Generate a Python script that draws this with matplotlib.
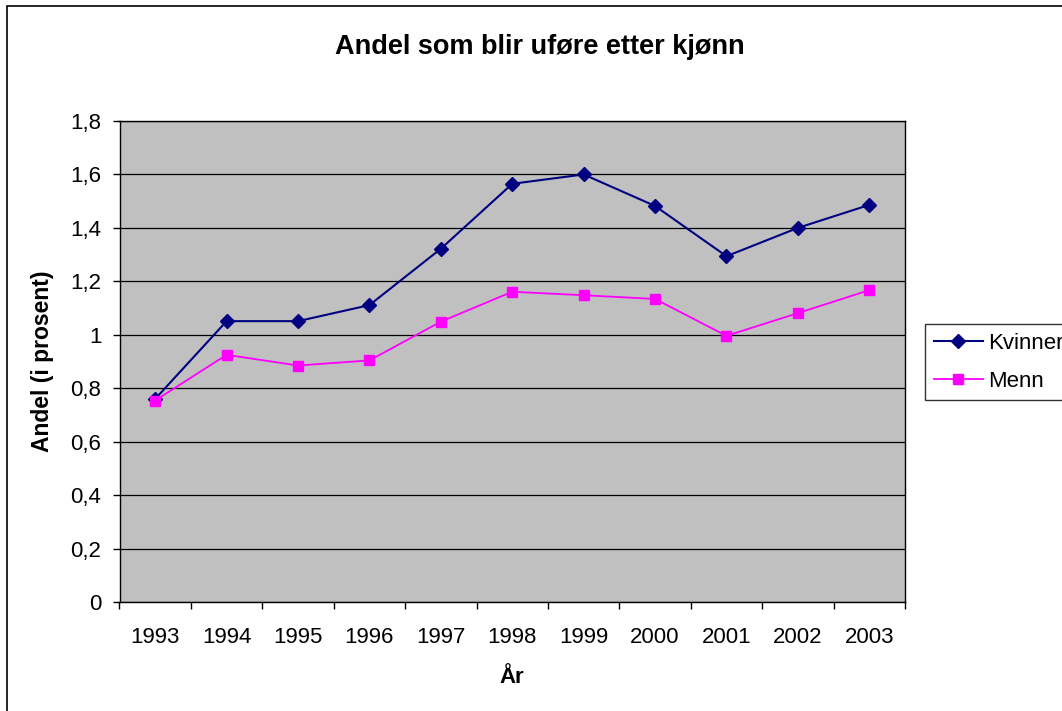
import numpy as np
import matplotlib.pyplot as plt
from matplotlib.patches import Rectangle

plt.rcParams['font.family'] = ['Liberation Sans', 'DejaVu Sans']

years = ['1993', '1994', '1995', '1996', '1997', '1998', '1999', '2000', '2001', '2002', '2003']
kvinner = [0.76, 1.051, 1.051, 1.111, 1.322, 1.565, 1.600, 1.482, 1.294, 1.400, 1.486]
menn = [0.754, 0.925, 0.885, 0.904, 1.049, 1.161, 1.148, 1.134, 0.996, 1.081, 1.167]
yticks = [0, 0.2, 0.4, 0.6, 0.8, 1.0, 1.2, 1.4, 1.6, 1.8]
ytick_labels = ['0', '0,2', '0,4', '0,6', '0,8', '1', '1,2', '1,4', '1,6', '1,8']

fig = plt.figure(figsize=(10.62, 7.11), dpi=100)
ax = fig.add_axes([119.5 / 1062, 109 / 711, 785.5 / 1062, 481 / 711])
ax.set_facecolor('#C0C0C0')

x = np.arange(len(years))
ax.plot(x, kvinner, color='#000080', lw=1.5, marker='D', ms=7, label='Kvinner', zorder=3)
ax.plot(x, menn, color='#FF00FF', lw=1.3, marker='s', ms=7, label='Menn', zorder=3)

ax.set_xlim(-0.5, len(years) - 0.5)
ax.set_ylim(0, 1.8)
ax.set_yticks(yticks)
ax.set_yticklabels(ytick_labels, fontsize=16)
ax.yaxis.grid(True, color='black', lw=0.9)
ax.set_axisbelow(True)

# ticks between categories, labels at centres
ax.set_xticks(np.arange(-0.5, len(years), 1.0))
ax.set_xticklabels([])
ax.set_xticks(x, minor=True)
ax.set_xticklabels(years, minor=True, fontsize=16)
ax.tick_params(axis='x', which='minor', length=0, pad=18)
ax.tick_params(axis='x', which='major', length=5, width=1, direction='out')
ax.tick_params(axis='y', length=5, width=1, direction='out', pad=8)
for s in ax.spines.values():
    s.set_color('black')
    s.set_linewidth(1)

ax.set_xlabel('År', fontsize=16, fontweight='bold', labelpad=14)
ax.set_ylabel('Andel (i prosent)', fontsize=16.5, fontweight='bold', labelpad=12)
fig.text(540 / 1062, 1 - 47 / 711, 'Andel som blir uføre etter kjønn', fontsize=19.5,
         fontweight='bold', ha='center', va='center')

leg = fig.legend(loc='upper left', bbox_to_anchor=(925 / 1062, 1 - 324 / 711), fontsize=16,
                 frameon=True, fancybox=False, edgecolor='black', borderpad=0.4,
                 handlelength=2.2, handletextpad=0.25, labelspacing=0.75, borderaxespad=0)
leg.get_frame().set_linewidth(1)

# chart border (runs off the right and bottom edges in the reference)
fig.patches.append(Rectangle((7 / 1062, -0.05), 1.1, 1 - 6 / 711 + 0.05, transform=fig.transFigure,
                             fill=False, edgecolor='black', lw=1.2))

fig.savefig('out.png', dpi=100)
